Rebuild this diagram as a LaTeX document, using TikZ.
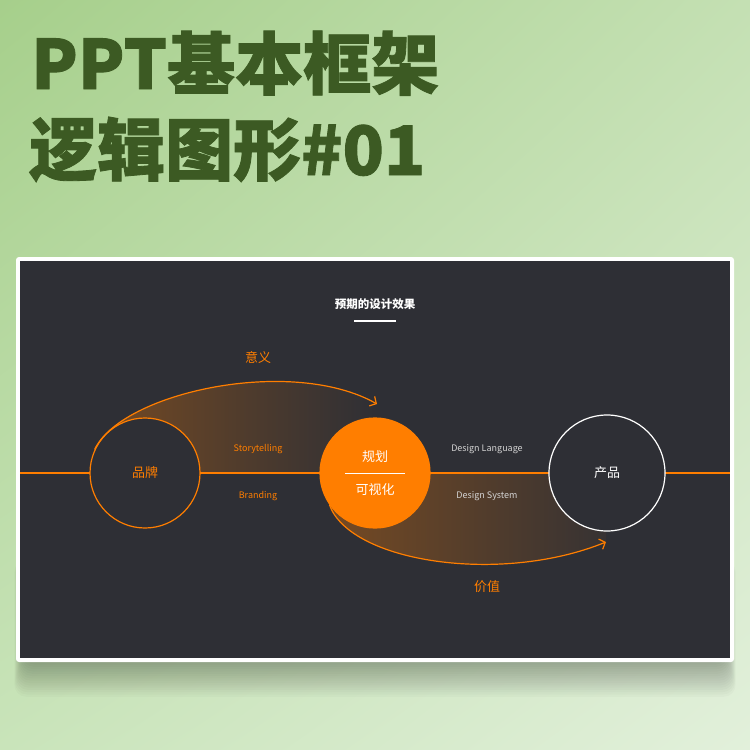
\documentclass[tikz,border=0pt]{standalone}
\usepackage{fontspec}
\setmainfont{Noto Sans CJK SC}
\newfontfamily\ttlfont{Noto Sans CJK SC}[BoldFeatures={FakeBold=1.2}]
\usetikzlibrary{arrows.meta,shadings}
\pgfdeclarelayer{back}
\pgfdeclarelayer{bg}
\pgfsetlayers{back,bg,main}
\definecolor{bgTL}{HTML}{A6CF8B}
\definecolor{bgTR}{HTML}{C4E0B3}
\definecolor{bgBL}{HTML}{C9E4BA}
\definecolor{bgBR}{HTML}{E2F0DB}
\definecolor{ttl}{HTML}{3C5A23}
\definecolor{panel}{HTML}{2E2F35}
\definecolor{org}{HTML}{FF7E00}
\definecolor{lbl}{HTML}{D4D4D4}
\tikzset{
  titletext/.style={text=ttl, font=\ttlfont\bfseries\fontsize{68}{72}\selectfont, inner sep=0, anchor=base west},
  orgline/.style={draw=org, line width=1.2pt},
  ring/.style={circle, inner sep=0, minimum size=110pt, line width=1.2pt, fill=panel},
  big/.style={font=\fontsize{13}{15}\selectfont},
  small/.style={font=\fontsize{9}{11}\selectfont},
  arcline/.style={draw=org, line width=1.2pt, -{Straight Barb[length=5pt,width=11pt,line width=1.2pt]}},
}
\begin{document}
\begin{tikzpicture}[x=1pt,y=-1pt]
\useasboundingbox (0,0) rectangle (750,750);
\begin{pgfonlayer}{back}
\shade[upper left=bgTL, upper right=bgTR, lower left=bgBL, lower right=bgBR] (0,0) rectangle (750,750);
% shadow
\foreach \i in {1,...,16}
  \fill[black, opacity=0.02, rounded corners=12pt] (24-\i*0.6, 560) rectangle (726+\i*0.6, 660+\i*2.3);
% panel
\fill[white, rounded corners=3pt] (16,257) rectangle (734,662);
\fill[panel] (20,261) rectangle (730,658);
\end{pgfonlayer}
% title
\node[titletext] (t1) at (31,89) {PPT基本框架};
\node[titletext] (t2) at (29,175) {逻辑图形\#01};
% header
\node[text=white, font=\fontsize{11.5}{13}\selectfont\bfseries] (hd) at (375,304) {预期的设计效果};
\node[fill=white, inner sep=0, minimum width=42pt, minimum height=2.5pt] (bar) at (375,321) {};
% axis
\coordinate (L) at (20,473);
\coordinate (R) at (730,473);
\draw[orgline] (L) -- (R);
% circles
\node[ring, draw=org, text=org, big] (brand) at (145,473) {品牌};
\node[ring, fill=org, draw=org] (plan) at (375,473) {};
\node[ring, draw=white, text=white, big, minimum size=116pt] (prod) at (607,473) {产品};
\node[text=white, big] (p1) at (375,457) {规划};
\node[text=white, big] (p2) at (375,490) {可视化};
\coordinate (dl) at (345,473);
\coordinate (dr) at (405,473);
\draw[white, line width=1pt] (dl) -- (dr);
% arcs
\coordinate (a1) at (377,404);
\coordinate (a2) at (606,542);
\begin{pgfonlayer}{bg}
\shade[left color=org!34!panel, right color=panel]
  (brand.155) .. controls (122,392) and (292,356) .. (a1) -- (a1 |- brand.center) -- (brand.center) -- cycle;
\shade[left color=org!34!panel, right color=panel!96!org]
  (plan.215) .. controls (350,562) and (500,585) .. (a2) -- (a2 |- plan.center) -- (plan.center) -- cycle;
\end{pgfonlayer}
\draw[arcline] (brand.155) .. controls (122,392) and (292,356) .. (a1);
\draw[arcline] (plan.215) .. controls (350,562) and (500,585) .. (a2);
% labels
\node[text=org, big] (m1) at (258,357) {意义};
\node[text=org, big] (m2) at (487,587) {价值};
\node[text=org, small] (s1) at (258,449) {Storytelling};
\node[text=org, small] (s2) at (258,496) {Branding};
\node[text=lbl, small] (s3) at (487,449) {Design Language};
\node[text=lbl, small] (s4) at (487,496) {Design System};
\end{tikzpicture}
\end{document}
